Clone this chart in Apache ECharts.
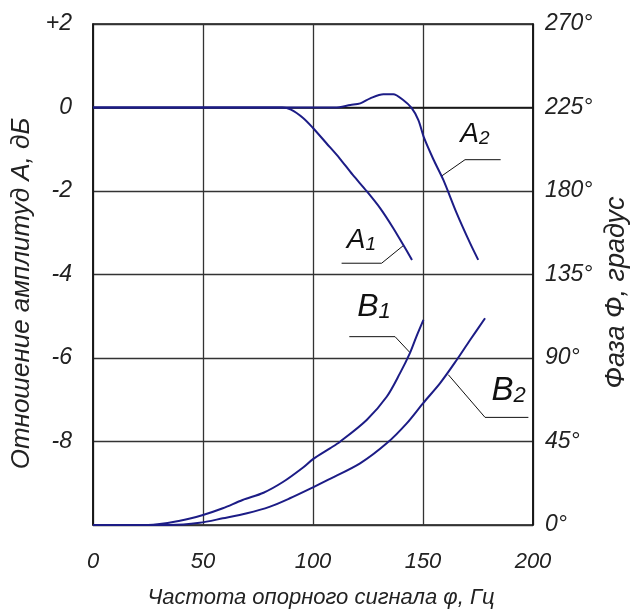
<!DOCTYPE html>
<html>
<head>
<meta charset="utf-8">
<script src="https://cdn.jsdelivr.net/npm/echarts@6/dist/echarts.min.js"></script>
<style>
html,body{margin:0;padding:0;background:#fff;}
#chart{width:631px;height:616px;}
</style>
</head>
<body>
<div id="chart"></div>
<script>
// Frequency (Hz) vs amplitude ratio (dB) -- left axis
const curveA1 = [[0,0],[86,0],[90,-0.05],[95.5,-0.25],[100,-0.49],[106,-0.85],[112,-1.21],[118,-1.61],[124.5,-2.01],[130.5,-2.41],[136.5,-2.89],[141,-3.29],[145,-3.65]];
const curveA2 = [[0,0],[110,0],[117,0.06],[121.5,0.1],[126,0.22],[132,0.32],[136.5,0.32],[141,0.18],[144.8,-0.01],[147.9,-0.3],[150.5,-0.73],[154.7,-1.24],[159.2,-1.73],[165.3,-2.53],[171.4,-3.25],[175.1,-3.65]];
// Frequency (Hz) vs phase (degrees) -- right axis
const curveB1 = [[0,0],[25,0],[39.5,2.3],[50,5.4],[59,9],[68,13.5],[77.5,17.4],[86.5,23.3],[95.5,31],[100,35.5],[107.7,41.3],[112.3,44.9],[124.4,56.6],[133.5,69.1],[139.5,81.7],[144,92.5],[147,101.5],[150.2,110.5]];
const curveB2 = [[0,0],[35,0],[48.5,1.2],[59,3.6],[70,6.3],[80.5,9.9],[89.5,14.4],[100,20.3],[107,24.4],[121.4,33.2],[133.5,44],[142.6,54.8],[150,65.6],[157.7,76.3],[165.3,88.9],[171.4,99.7],[178.2,111.4]];

// Leader lines for curve captions (data coordinates)
const leaderA1 = [[113,-3.73],[131.2,-3.73],[141,-3.31]];
const leaderA2 = [[185.3,-1.25],[169.1,-1.25],[158.5,-1.64]];
const leaderB1 = [[116.5,101.5],[137.3,101.5],[144,93]];
const leaderB2 = [[197.9,58],[178.2,58],[161.5,81]];
// Caption anchors (data coordinates): letter, subscript
const captionA1 = {letter:'A', sub:'1', at:[122,-3.19]};
const captionA2 = {letter:'A', sub:'2', at:[173.6,-0.65]};
const captionB1 = {letter:'B', sub:'1', at:[127.7,117.5]};
const captionB2 = {letter:'B', sub:'2', at:[188.9,72.5]};

const xTicks = {min:0, max:200, interval:50};
const ampTicks = {min:-10, max:2, interval:2};
const phaseTicks = {min:0, max:270, interval:45};

const xTitle = 'Частота опорного сигнала φ, Гц';
const ampTitle = 'Отношение амплитуд А, дБ';
const phaseTitle = 'Фаза Ф, градус';

const FONT = '"Liberation Sans Narrow", "Liberation Sans", Arimo, sans-serif';
const TXT = '#222';
const CURVE = '#1c1c86';

function curveSeries(name, data, yIdx){
  return {name, type:'line', data, yAxisIndex:yIdx, symbol:'none', smooth:0.3,
    lineStyle:{color:CURVE, width:2}, z:5, silent:true};
}
function leaderSeries(name, data, yIdx, cap, big){
  return {name, type:'line', data, yAxisIndex:yIdx, symbol:'none',
    lineStyle:{color:'#111', width:1}, z:4, silent:true,
    markPoint:{symbol:'circle', symbolSize:0, silent:true,
      data:[{coord:cap.at, value:cap.letter}],
      label:{show:true, position:'inside',
        formatter: () => '{m|' + cap.letter + '}{s|' + cap.sub + '}',
        rich:{
          m:{fontFamily:FONT, fontStyle:'italic', fontSize:big, color:'#111', verticalAlign:'bottom', lineHeight:big},
          s:{fontFamily:FONT, fontStyle:'italic', fontSize:Math.round(big*0.68), color:'#111', verticalAlign:'bottom', lineHeight:big}
        }}}};
}

const chart = echarts.init(document.getElementById('chart'), null, {renderer:'canvas'});
chart.setOption({
  animation:false,
  backgroundColor:'#fff',
  grid:{left:93, right:98, top:24, bottom:91, show:true, borderColor:'#111', borderWidth:1.5,
    containLabel:false, outerBoundsMode:'none'},
  xAxis:{type:'value', min:xTicks.min, max:xTicks.max, interval:xTicks.interval,
    name:xTitle, nameLocation:'middle', nameGap:62,
    nameTextStyle:{fontFamily:FONT, fontStyle:'italic', fontSize:22, color:TXT, padding:[0,0,0,16]},
    axisLine:{show:true, lineStyle:{color:'#111', width:1.5}}, axisTick:{show:false},
    splitLine:{show:true, lineStyle:{color:'#333', width:1.3}},
    axisLabel:{margin:26, fontFamily:FONT, fontStyle:'italic', fontSize:22, color:TXT}},
  yAxis:[
    {type:'value', position:'left', min:ampTicks.min, max:ampTicks.max, interval:ampTicks.interval,
      name:ampTitle, nameLocation:'middle', nameGap:50, nameRotate:90,
      nameTextStyle:{fontFamily:FONT, fontStyle:'italic', fontSize:26, color:TXT, padding:[0,38,0,0]},
      axisLine:{show:true, lineStyle:{color:'#111', width:1.5}}, axisTick:{show:false},
      splitLine:{show:true, lineStyle:{color:'#333', width:1.3}},
      axisLabel:{margin:21, fontFamily:FONT, fontStyle:'italic', fontSize:23, color:TXT,
        formatter:v => v === ampTicks.min ? '' : (v > 0 ? '+' + v : String(v))}},
    {type:'value', position:'right', min:phaseTicks.min, max:phaseTicks.max, interval:phaseTicks.interval,
      name:phaseTitle, nameLocation:'middle', nameGap:67, nameRotate:90,
      nameTextStyle:{fontFamily:FONT, fontStyle:'italic', fontSize:27, color:TXT, padding:[0,36,0,0]},
      axisLine:{show:true, lineStyle:{color:'#111', width:1.5}}, axisTick:{show:false},
      splitLine:{show:false},
      axisLabel:{margin:12, fontFamily:FONT, fontStyle:'italic', fontSize:23, color:TXT,
        formatter:v => v + '°'}}
  ],
  series:[
    curveSeries('A1', curveA1, 0),
    curveSeries('A2', curveA2, 0),
    curveSeries('B1', curveB1, 1),
    curveSeries('B2', curveB2, 1),
    leaderSeries('A1 caption', leaderA1, 0, captionA1, 28),
    leaderSeries('A2 caption', leaderA2, 0, captionA2, 28),
    leaderSeries('B1 caption', leaderB1, 1, captionB1, 32),
    leaderSeries('B2 caption', leaderB2, 1, captionB2, 33)
  ]
});
</script>
</body>
</html>
